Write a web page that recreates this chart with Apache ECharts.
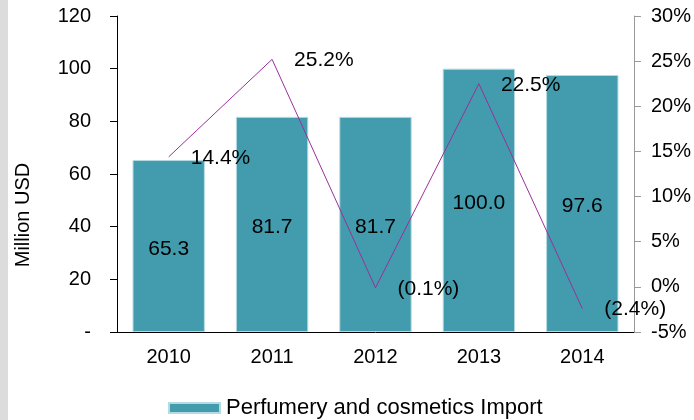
<!DOCTYPE html>
<html>
<head>
<meta charset="utf-8">
<script src="https://cdn.jsdelivr.net/npm/echarts@6/dist/echarts.min.js"></script>
<style>
  html, body { margin: 0; padding: 0; background: #fff; }
  #chart { width: 694px; height: 420px; }
</style>
</head>
<body>
<div id="chart"></div>
<script>
// data
const years = ['2010', '2011', '2012', '2013', '2014']
const importValues = [65.3, 81.7, 81.7, 100.0, 97.6]
const growthRates = [14.4, 25.2, -0.1, 22.5, -2.4]
const seriesName = 'Perfumery and cosmetics Import'

const font = 'Liberation Sans, Arial, sans-serif'
const chart = echarts.init(document.getElementById('chart'))

const option = {
  animation: false,
  textStyle: { fontFamily: font },
  grid: { left: 117, right: 59, top: 16, bottom: 88 },
  graphic: [
    { type: 'rect', left: 0, top: 0, shape: { width: 8, height: 420 }, style: { fill: '#dcdcdc' } },
    {
      type: 'text',
      x: 23,
      y: 215,
      rotation: Math.PI / 2,
      style: { text: 'Million USD', font: '20px ' + font, fill: '#000', align: 'center', verticalAlign: 'middle' }
    }
  ],
  legend: {
    data: [seriesName],
    left: 168,
    top: 397,
    padding: 0,
    itemWidth: 51,
    itemHeight: 10,
    itemGap: 10,
    icon: 'rect',
    textStyle: { fontSize: 22, color: '#000', fontFamily: font, padding: [0, 0, 0, 1] }
  },
  xAxis: {
    type: 'category',
    data: years,
    boundaryGap: true,
    axisLine: { lineStyle: { color: '#000', width: 1 } },
    axisTick: { length: 7, lineStyle: { color: '#000' } },
    axisLabel: { fontSize: 20, color: '#000', margin: 15 }
  },
  yAxis: [
    {
      type: 'value',
      min: 0,
      max: 120,
      interval: 20,
      splitLine: { show: false },
      axisLine: { show: true, lineStyle: { color: '#000' } },
      axisTick: { show: true, length: 7, lineStyle: { color: '#000' } },
      axisLabel: {
        fontSize: 20,
        color: '#000',
        margin: 26,
        formatter: v => (v === 0 ? '-' : v)
      }
    },
    {
      type: 'value',
      min: -5,
      max: 30,
      interval: 5,
      position: 'right',
      splitLine: { show: false },
      axisLine: { show: true, lineStyle: { color: '#999' } },
      axisTick: { show: true, length: 7, lineStyle: { color: '#999' } },
      axisLabel: { fontSize: 20, color: '#000', margin: 17, formatter: '{value}%' }
    }
  ],
  series: [
    {
      name: seriesName,
      type: 'bar',
      data: importValues,
      barWidth: '70%',
      itemStyle: { color: '#429cad', borderColor: '#b5dbe2', borderWidth: 1 },
      label: {
        show: true,
        position: 'inside',
        offset: [0, 3],
        color: '#000',
        fontSize: 21,
        formatter: p => p.value.toFixed(1)
      }
    },
    {
      name: 'growth',
      type: 'line',
      yAxisIndex: 1,
      data: growthRates,
      symbolSize: 0,
      showSymbol: true,
      lineStyle: { color: '#9b2f9b', width: 1 },
      itemStyle: { color: '#9b2f9b' },
      label: {
        show: true,
        position: 'right',
        distance: 22,
        offset: [0, 1],
        color: '#000',
        fontSize: 21,
        formatter: p => (p.value < 0 ? '(' + (-p.value).toFixed(1) + '%)' : p.value.toFixed(1) + '%')
      }
    }
  ]
}

chart.setOption(option)
</script>
</body>
</html>
